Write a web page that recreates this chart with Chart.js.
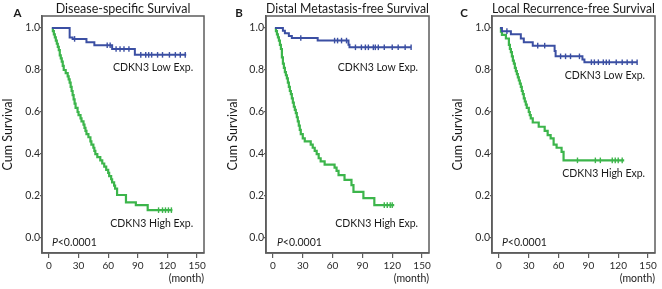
<!DOCTYPE html>
<html><head><meta charset="utf-8">
<script src="https://cdn.jsdelivr.net/npm/chart.js@4/dist/chart.umd.min.js"></script>
<style>
html,body{margin:0;padding:0;background:#fff;}
#wrap{position:relative;width:662px;height:289px;overflow:hidden;background:#fff;}
.pane{position:absolute;top:0;height:289px;}
</style></head><body>
<div id="wrap">
<div class="pane" style="left:0;width:220px"><canvas id="cA" width="220" height="289"></canvas></div>
<div class="pane" style="left:220px;width:225px"><canvas id="cB" width="225" height="289"></canvas></div>
<div class="pane" style="left:445px;width:217px"><canvas id="cC" width="217" height="289"></canvas></div>
</div>
<script>
// ---- text / ticks ----
const monthTicks = [0, 30, 60, 90, 120, 150];
const survTicks = [0, 0.2, 0.4, 0.6, 0.8, 1.0];
const panelLetters = ['A', 'B', 'C'];
const panelTitles = ['Disease-specific Survival', 'Distal Metastasis-free Survival', 'Local Recurrence-free Survival'];
const yAxisTitle = 'Cum Survival';
const xAxisTitle = '(month)';
const lowLabel = 'CDKN3 Low Exp.';
const highLabel = 'CDKN3 High Exp.';
const pValueText = '<0.0001';

// ---- Panel A: Disease-specific survival ----
const aLowT  = [3, 21, 24, 38, 46, 64, 87, 139];
const aLowS  = [1.0, 0.955, 0.948, 0.932, 0.918, 0.90, 0.872, 0.872];
const aLowCens = [26, 59, 62, 68, 72, 76, 81, 93, 98, 101, 104, 110, 115, 122, 128, 133, 138];
const aHighT = [3,4,5,6,7,8,9,10,11,12,13,14,15,17,19,20,21,22,23,24,25,26,27,29,30,32,33,35,36,37,38,40,42,43,45,46,47,49,52,54,56,58,60,61,63,64,66,67,69,78,88,100,125];
const aHighS = [1.0,0.985,0.97,0.955,0.94,0.925,0.91,0.895,0.87,0.855,0.84,0.82,0.80,0.785,0.77,0.755,0.74,0.72,0.70,0.68,0.66,0.64,0.62,0.60,0.585,0.57,0.555,0.54,0.525,0.51,0.495,0.48,0.46,0.445,0.43,0.415,0.40,0.385,0.37,0.355,0.34,0.325,0.31,0.295,0.28,0.265,0.25,0.235,0.205,0.17,0.157,0.133,0.133];
const aHighCens = [111, 115, 118, 121, 124];

// ---- Panel B: Distal metastasis-free survival ----
const bLowT  = [2, 10, 12, 16, 19, 45, 76, 77, 139];
const bLowS  = [1.0, 0.987, 0.975, 0.962, 0.952, 0.94, 0.92, 0.908, 0.908];
const bLowCens = [28, 62, 65, 69, 74, 83, 89, 93, 96, 101, 103, 106, 112, 120, 126, 133, 139];
const bHighT = [2,3,4,5,6,7,8,9,10,11,12,13,14,15,16,17,18,19,20,21,22,23,24,25,26,27,28,30,32,38,40,42,44,46,48,52,62,64,66,72,79,81,91,102,122];
const bHighS = [1.0,0.985,0.97,0.955,0.94,0.92,0.90,0.86,0.83,0.81,0.79,0.775,0.76,0.74,0.72,0.70,0.685,0.665,0.645,0.625,0.61,0.595,0.575,0.555,0.535,0.515,0.495,0.475,0.46,0.445,0.43,0.415,0.40,0.38,0.365,0.35,0.335,0.32,0.30,0.277,0.252,0.22,0.19,0.157,0.157];
const bHighCens = [112, 115, 118, 120];

// ---- Panel C: Local recurrence-free survival ----
const cLowT  = [1, 3, 12, 22, 25, 34, 56, 57, 84, 86, 139];
const cLowS  = [1.0, 0.985, 0.97, 0.95, 0.932, 0.916, 0.89, 0.865, 0.85, 0.837, 0.837];
const cLowCens = [8, 39, 46, 62, 67, 72, 81, 93, 96, 100, 105, 108, 111, 118, 124, 129, 134, 139];
const cHighT = [1,2,3,7,10,11,12,13,14,15,16,17,18,19,20,21,22,23,24,25,26,27,28,30,31,32,34,40,46,49,52,55,58,63,65,126];
const cHighS = [1.0,0.983,0.967,0.95,0.92,0.90,0.885,0.865,0.845,0.83,0.81,0.795,0.78,0.765,0.75,0.735,0.72,0.70,0.685,0.665,0.65,0.635,0.62,0.60,0.585,0.57,0.55,0.53,0.51,0.49,0.475,0.445,0.43,0.41,0.37,0.37];
const cHighCens = [79, 97, 102, 114, 117, 120, 124];

// ---- styling ----
const BLUE = '#3b4fa3';
const GREEN = '#3cb54b';
const AXIS = '#5c5c5c';
const FONT = 'Lato, "Open Sans", sans-serif';

function curve(T, S) { return T.map((t, i) => ({ x: t, y: S[i] })); }
function survAt(T, S, t) { let v = S[0]; for (let i = 0; i < T.length; i++) { if (T[i] <= t) v = S[i]; } return v; }
function cens(T, S, C) { return C.map(t => ({ x: t, y: survAt(T, S, t) })); }

const annot = {
  id: 'annot',
  afterDraw(chart, args, o) {
    const { ctx, chartArea: a, scales: { x, y } } = chart;
    ctx.save();
    ctx.strokeStyle = AXIS; ctx.lineWidth = 1.5;
    ctx.strokeRect(a.left, a.top, a.right - a.left, a.bottom - a.top);
    ctx.fillStyle = '#1a1a1a'; ctx.textBaseline = 'middle';
    ctx.font = 'bold 11.5px ' + FONT; ctx.textAlign = 'center';
    ctx.fillText(o.letter, o.letterPos[0], o.letterPos[1]);
    ctx.font = '10.5px ' + FONT; ctx.textAlign = 'right';
    ctx.fillText(lowLabel, x.getPixelForValue(o.lowLab[0]), y.getPixelForValue(o.lowLab[1]));
    ctx.fillText(highLabel, x.getPixelForValue(o.highLab[0]), y.getPixelForValue(o.highLab[1]));
    ctx.textAlign = 'left';
    const px = x.getPixelForValue(o.pPos[0]), py = y.getPixelForValue(o.pPos[1]);
    ctx.font = 'italic 10.5px ' + FONT; ctx.fillText('P', px, py);
    const w = ctx.measureText('P').width;
    ctx.font = '10.5px ' + FONT; ctx.fillText(pValueText, px + w, py);
    ctx.restore();
  }
};

const panels = [
  { id: 'cA', yW: 42, padR: 16, yTitlePad: 0.5, lowT: aLowT, lowS: aLowS, lowC: aLowCens, highT: aHighT, highS: aHighS, highC: aHighCens,
    lowLab: [146, 0.81], highLab: [146, 0.067], pPos: [3, -0.02], letterPos: [17.5, 13] },
  { id: 'cB', yW: 46, padR: 16, yTitlePad: 5, lowT: bLowT, lowS: bLowS, lowC: bLowCens, highT: bHighT, highS: bHighS, highC: bHighCens,
    lowLab: [146, 0.81], highLab: [146, 0.067], pPos: [4, -0.02], letterPos: [19, 13] },
  { id: 'cC', yW: 47, padR: 7, yTitlePad: 5, lowT: cLowT, lowS: cLowS, lowC: cLowCens, highT: cHighT, highS: cHighS, highC: cHighCens,
    lowLab: [147, 0.771], highLab: [147, 0.305], pPos: [3, -0.02], letterPos: [19, 13] }
];

panels.forEach((p, k) => {
  new Chart(document.getElementById(p.id), {
    type: 'line',
    data: {
      datasets: [
        { label: lowLabel, data: curve(p.lowT, p.lowS), stepped: true, borderColor: BLUE, borderWidth: 2, pointRadius: 0, fill: false },
        { label: lowLabel + ' censored', data: cens(p.lowT, p.lowS, p.lowC), showLine: false, pointStyle: 'line', rotation: 90, pointRadius: 2.8, borderColor: BLUE, pointBorderWidth: 1.4, backgroundColor: BLUE },
        { label: highLabel, data: curve(p.highT, p.highS), stepped: true, borderColor: GREEN, borderWidth: 2.2, pointRadius: 0, fill: false },
        { label: highLabel + ' censored', data: cens(p.highT, p.highS, p.highC), showLine: false, pointStyle: 'line', rotation: 90, pointRadius: 2.8, borderColor: GREEN, pointBorderWidth: 1.4, backgroundColor: GREEN }
      ]
    },
    options: {
      responsive: false, animation: false, events: [],
      layout: { padding: { left: 0, right: p.padR, top: 0, bottom: 0 } },
      plugins: {
        legend: { display: false }, tooltip: { enabled: false },
        title: { display: true, text: panelTitles[k], fullSize: false, color: '#1a1a1a',
                 font: { family: FONT, size: 12.5, weight: 'normal' }, padding: { top: 1, bottom: 0 } },
        annot: { letter: panelLetters[k], letterPos: p.letterPos, lowLab: p.lowLab, highLab: p.highLab, pPos: p.pPos }
      },
      scales: {
        x: {
          type: 'linear', min: -7, max: 157,
          afterBuildTicks: s => { s.ticks = monthTicks.map(v => ({ value: v })); },
          afterFit: s => { s.height = 36; },
          grid: { display: true, drawOnChartArea: false, drawTicks: true, tickLength: 5, color: AXIS, lineWidth: 1.2 },
          border: { display: true, color: AXIS, width: 1.5 },
          ticks: { color: '#2a2a2a', font: { family: FONT, size: 10 }, padding: 2, maxRotation: 0, autoSkip: false },
          title: { display: true, text: xAxisTitle, align: 'end', color: '#1a1a1a', font: { family: FONT, size: 10.5 }, padding: { top: 0, bottom: 4.5 } }
        },
        y: {
          type: 'linear', min: -0.071, max: 1.057,
          afterBuildTicks: s => { s.ticks = survTicks.map(v => ({ value: v })); },
          afterFit: s => { s.width = p.yW; },
          grid: { display: true, drawOnChartArea: false, drawTicks: true, tickLength: 2, color: AXIS, lineWidth: 1.2 },
          border: { display: true, color: AXIS, width: 1.5 },
          ticks: { color: '#2a2a2a', font: { family: FONT, size: 10.5 }, padding: 0, callback: v => Number(v).toFixed(1) },
          title: { display: true, text: yAxisTitle, color: '#1a1a1a', font: { family: FONT, size: 12.5 }, padding: { top: p.yTitlePad, bottom: 0 } }
        }
      }
    },
    plugins: [annot]
  });
});
</script>
</body></html>
